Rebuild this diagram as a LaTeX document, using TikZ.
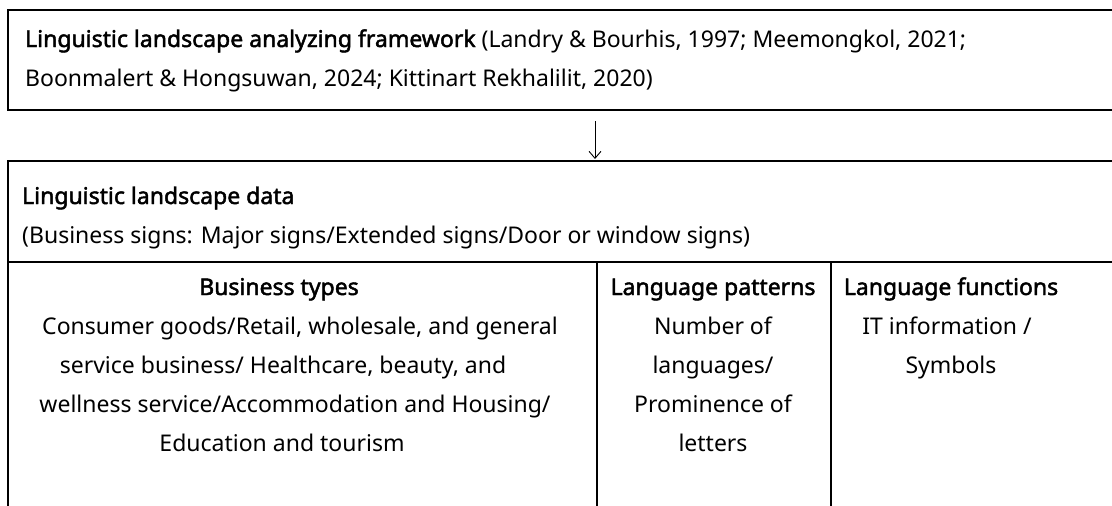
\documentclass[tikz,border=0pt]{standalone}
\usepackage{fontspec}
\setmainfont{Noto Sans}[AutoFakeBold=2]
\usetikzlibrary{arrows.meta}
\tikzset{
  frame/.style={line width=1.6pt, black},
  txt/.style={inner sep=0pt, font=\fontsize{23}{27}\selectfont},
  lft/.style={txt, anchor=base west},
  ctr/.style={txt, anchor=base},
  flow/.style={line width=0.9pt, -{Straight Barb[length=7pt,width=12pt,line width=0.9pt]}}
}
\begin{document}
\begin{tikzpicture}[x=1pt,y=-1pt]
\useasboundingbox (0,0) rectangle (1112,506);
\clip (0,0) rectangle (1112,506);
% top box
\draw[frame] (1120,10) -- (8,10) -- (8,110) -- (1120,110);
\node[lft] (fw1) at (25,47) {\textbf{Linguistic landscape analyzing framework} (Landry \& Bourhis, 1997; Meemongkol, 2021;};
\node[lft] (fw2) at (25,86) {Boonmalert \& Hongsuwan, 2024; Kittinart Rekhalilit, 2020)};
% arrow
\coordinate (arrS) at (595,121);
\coordinate (arrE) at (595,159);
\draw[flow] (arrS) -- (arrE);
% second box
\draw[frame] (1120,161) -- (8,161) -- (8,520);
\draw[frame] (8,262) -- (1120,262);
\draw[frame] (597,262) -- (597,520);
\draw[frame] (831,262) -- (831,520);
\node[lft] (ld1) at (22,204) {\textbf{Linguistic landscape data}};
\node[lft] (ld2) at (22,243) {(Business signs: Major signs/Extended signs/Door or window signs)};
% column 1
\node[ctr] (bt0) at (279,295) {\textbf{Business types}};
\node[ctr] (bt1) at (300,334) {Consumer goods/Retail, wholesale, and general};
\node[ctr] (bt2) at (283,373) {service business/ Healthcare, beauty, and};
\node[ctr] (bt3) at (295,412) {wellness service/Accommodation and Housing/};
\node[ctr] (bt4) at (282,451) {Education and tourism};
% column 2
\node[ctr] (lp0) at (713,295) {\textbf{Language patterns}};
\node[ctr] (lp1) at (713,334) {Number of};
\node[ctr] (lp2) at (713,373) {languages/};
\node[ctr] (lp3) at (713,412) {Prominence of};
\node[ctr] (lp4) at (713,451) {letters};
% column 3
\node[ctr] (lf0) at (951,295) {\textbf{Language functions}};
\node[ctr] (lf1) at (947,334) {IT information /};
\node[ctr] (lf2) at (951,373) {Symbols};
\end{tikzpicture}
\end{document}
